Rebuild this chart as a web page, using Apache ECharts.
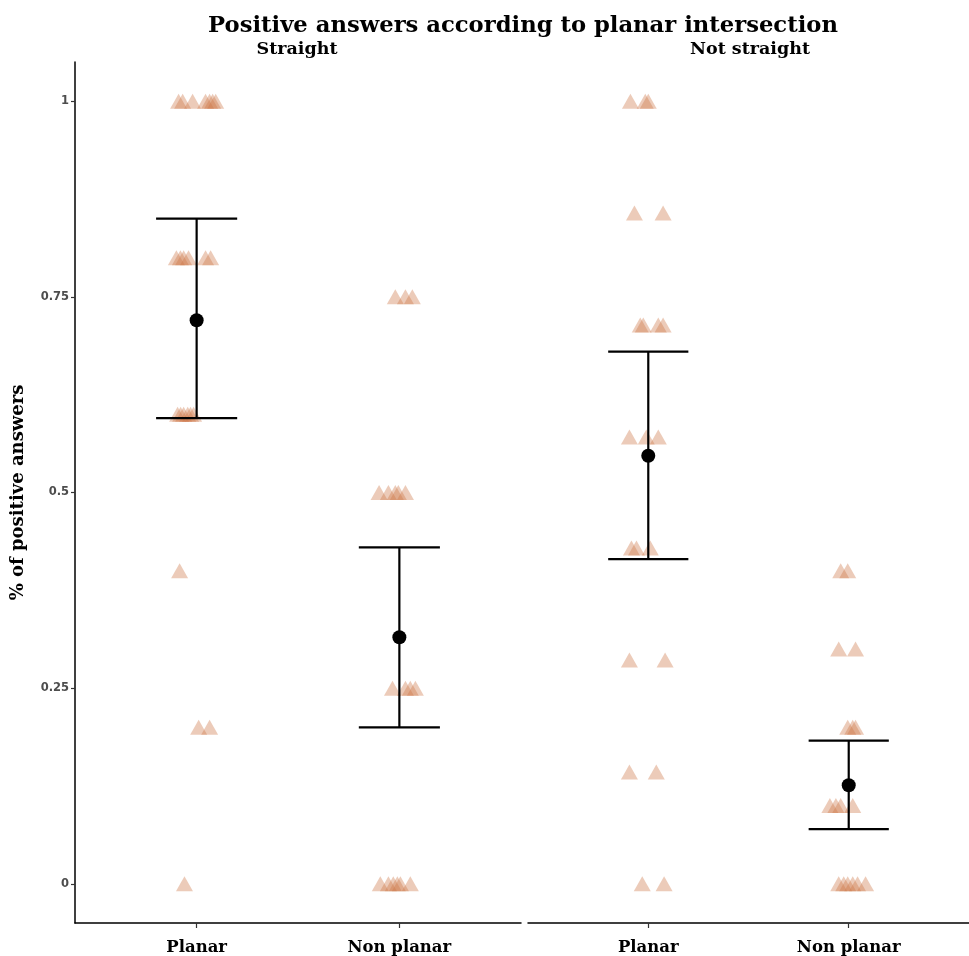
<!DOCTYPE html>
<html>
<head>
<meta charset="utf-8">
<script src="https://cdn.jsdelivr.net/npm/echarts@6/dist/echarts.min.js"></script>
<style>html,body{margin:0;padding:0;background:#fff;}#c{width:969px;height:956px;}</style>
</head>
<body>
<div id="c"></div>
<script>
// ---- data ----
const categories = ['Planar', 'Non planar'];
const facets = ['Straight', 'Not straight'];
const yTicks = [0, 0.25, 0.5, 0.75, 1];
const yTickLabels = ['0', '0.25', '0.5', '0.75', '1'];

// individual answers (value) with horizontal jitter (offset from category centre)
const straightPlanarY      = [1, 1, 1, 1, 1, 1, 1, 0.8, 0.8, 0.8, 0.8, 0.8, 0.8, 0.6, 0.6, 0.6, 0.6, 0.6, 0.6, 0.4, 0.2, 0.2, 0];
const straightPlanarJit    = [-0.089, -0.069, -0.02, 0.044, 0.064, 0.079, 0.094, -0.10, -0.08, -0.064, -0.04, 0.044, 0.069, -0.094, -0.079, -0.064, -0.044, -0.03, -0.015, -0.084, 0.01, 0.064, -0.06];
const straightNonPlanarY   = [0.75, 0.75, 0.75, 0.5, 0.5, 0.5, 0.5, 0.5, 0.25, 0.25, 0.25, 0.25, 0, 0, 0, 0, 0, 0];
const straightNonPlanarJit = [-0.02, 0.03, 0.064, -0.10, -0.054, -0.02, -0.005, 0.03, -0.034, 0.03, 0.054, 0.079, -0.094, -0.054, -0.03, -0.01, 0.005, 0.054];
const notStraightPlanarY   = [1, 1, 1, 0.857, 0.857, 0.714, 0.714, 0.714, 0.714, 0.571, 0.571, 0.571, 0.429, 0.429, 0.429, 0.286, 0.286, 0.143, 0.143, 0, 0];
const notStraightPlanarJit = [-0.089, -0.015, 0, -0.069, 0.074, -0.04, -0.025, 0.05, 0.074, -0.094, -0.01, 0.05, -0.084, -0.059, 0.01, -0.094, 0.084, -0.094, 0.04, -0.03, 0.079];
const notStraightNonPlanarY   = [0.4, 0.4, 0.3, 0.3, 0.2, 0.2, 0.2, 0.1, 0.1, 0.1, 0.1, 0, 0, 0, 0, 0, 0];
const notStraightNonPlanarJit = [-0.04, -0.005, -0.05, 0.034, -0.005, 0.02, 0.034, -0.094, -0.064, -0.04, 0.02, -0.05, -0.025, -0.005, 0.02, 0.044, 0.084];

// summary: mean and confidence interval per facet (Planar, Non planar)
const straightMean = [0.72, 0.315];
const straightLow  = [0.595, 0.20];
const straightHigh = [0.85, 0.43];
const notStraightMean = [0.547, 0.126];
const notStraightLow  = [0.415, 0.07];
const notStraightHigh = [0.68, 0.183];

// ---- build ----
function pts(ys, jit, cat) { return ys.map((y, i) => [cat + 1 + jit[i], y]); }
const tri1 = pts(straightPlanarY, straightPlanarJit, 0).concat(pts(straightNonPlanarY, straightNonPlanarJit, 1));
const tri2 = pts(notStraightPlanarY, notStraightPlanarJit, 0).concat(pts(notStraightNonPlanarY, notStraightNonPlanarJit, 1));
function eb(lo, hi) { return lo.map((l, i) => [i + 1, l, hi[i]]); }
function mp(m) { return m.map((v, i) => [i + 1, v]); }

const serif = 'DejaVu Serif';
const triColor = 'rgba(204,118,72,0.38)';

function xAxis(gi) {
  return {
    type: 'value', gridIndex: gi, min: 0.4, max: 2.6,
    splitLine: { show: false },
    axisLine: { show: true, onZero: false, lineStyle: { color: '#000', width: 1.5 } },
    axisTick: { show: true, customValues: [1, 2], length: 5, lineStyle: { color: '#333', width: 1.2 } },
    axisLabel: {
      customValues: [1, 2], formatter: v => categories[Math.round(v) - 1],
      fontFamily: serif, fontWeight: 'bold', fontSize: 16.5, color: '#000', margin: 16
    }
  };
}
function yAxis(gi, show) {
  return {
    type: 'value', gridIndex: gi, min: -0.05, max: 1.05,
    show: show,
    splitLine: { show: false },
    axisLine: { show: true, onZero: false, lineStyle: { color: '#000', width: 1.5 } },
    axisTick: { show: true, customValues: yTicks, length: 4, lineStyle: { color: '#333', width: 1.2 } },
    axisLabel: {
      customValues: yTicks, formatter: v => yTickLabels[yTicks.indexOf(v)] ?? '',
      fontFamily: 'DejaVu Sans', fontWeight: 'bold', fontSize: 11.5, color: '#4d4d4d', margin: 6
    },
    name: show ? '% of positive answers' : '',
    nameLocation: 'middle', nameRotate: 90, nameGap: 48,
    nameTextStyle: { fontFamily: serif, fontWeight: 'bold', fontSize: 18, color: '#000' }
  };
}
function errSeries(xi, data) {
  return {
    type: 'custom', xAxisIndex: xi, yAxisIndex: xi, z: 5,
    data: data,
    renderItem: function (params, api) {
      const x = api.value(0), lo = api.value(1), hi = api.value(2);
      const pLo = api.coord([x, lo]), pHi = api.coord([x, hi]);
      const half = api.size([0.2, 0])[0];
      const st = { stroke: '#000', lineWidth: 2.2, fill: null };
      return {
        type: 'group', children: [
          { type: 'line', shape: { x1: pLo[0], y1: pLo[1], x2: pHi[0], y2: pHi[1] }, style: st },
          { type: 'line', shape: { x1: pLo[0] - half, y1: pLo[1], x2: pLo[0] + half, y2: pLo[1] }, style: st },
          { type: 'line', shape: { x1: pHi[0] - half, y1: pHi[1], x2: pHi[0] + half, y2: pHi[1] }, style: st }
        ]
      };
    }
  };
}
function triSeries(xi, data) {
  return {
    type: 'scatter', xAxisIndex: xi, yAxisIndex: xi, z: 2,
    symbol: 'triangle', symbolSize: [17, 15],
    itemStyle: { color: triColor, opacity: 1 },
    emphasis: { disabled: true },
    data: data
  };
}
function meanSeries(xi, data) {
  return {
    type: 'scatter', xAxisIndex: xi, yAxisIndex: xi, z: 6,
    symbol: 'circle', symbolSize: 14,
    itemStyle: { color: '#000', opacity: 1 },
    emphasis: { disabled: true },
    data: data
  };
}

const chart = echarts.init(document.getElementById('c'), null, { renderer: 'canvas' });
chart.setOption({
  animation: false,
  backgroundColor: '#fff',
  title: [
    { text: 'Positive answers according to planar intersection', left: 523, top: 15, textAlign: 'center', padding: 0,
      textStyle: { fontFamily: serif, fontWeight: 'bold', fontSize: 22.7, color: '#000' } },
    { text: facets[0], left: 297, top: 40, textAlign: 'center', padding: 0,
      textStyle: { fontFamily: serif, fontWeight: 'bold', fontSize: 17.5, color: '#000' } },
    { text: facets[1], left: 750, top: 40, textAlign: 'center', padding: 0,
      textStyle: { fontFamily: serif, fontWeight: 'bold', fontSize: 17.5, color: '#000' } }
  ],
  grid: [
    { left: 75, top: 62, width: 446, height: 863 },
    { left: 528, top: 62, width: 446, height: 863 }
  ],
  xAxis: [xAxis(0), xAxis(1)],
  yAxis: [yAxis(0, true), yAxis(1, false)],
  series: [
    triSeries(0, tri1), triSeries(1, tri2),
    errSeries(0, eb(straightLow, straightHigh)), errSeries(1, eb(notStraightLow, notStraightHigh)),
    meanSeries(0, mp(straightMean)), meanSeries(1, mp(notStraightMean))
  ]
});
</script>
</body>
</html>
